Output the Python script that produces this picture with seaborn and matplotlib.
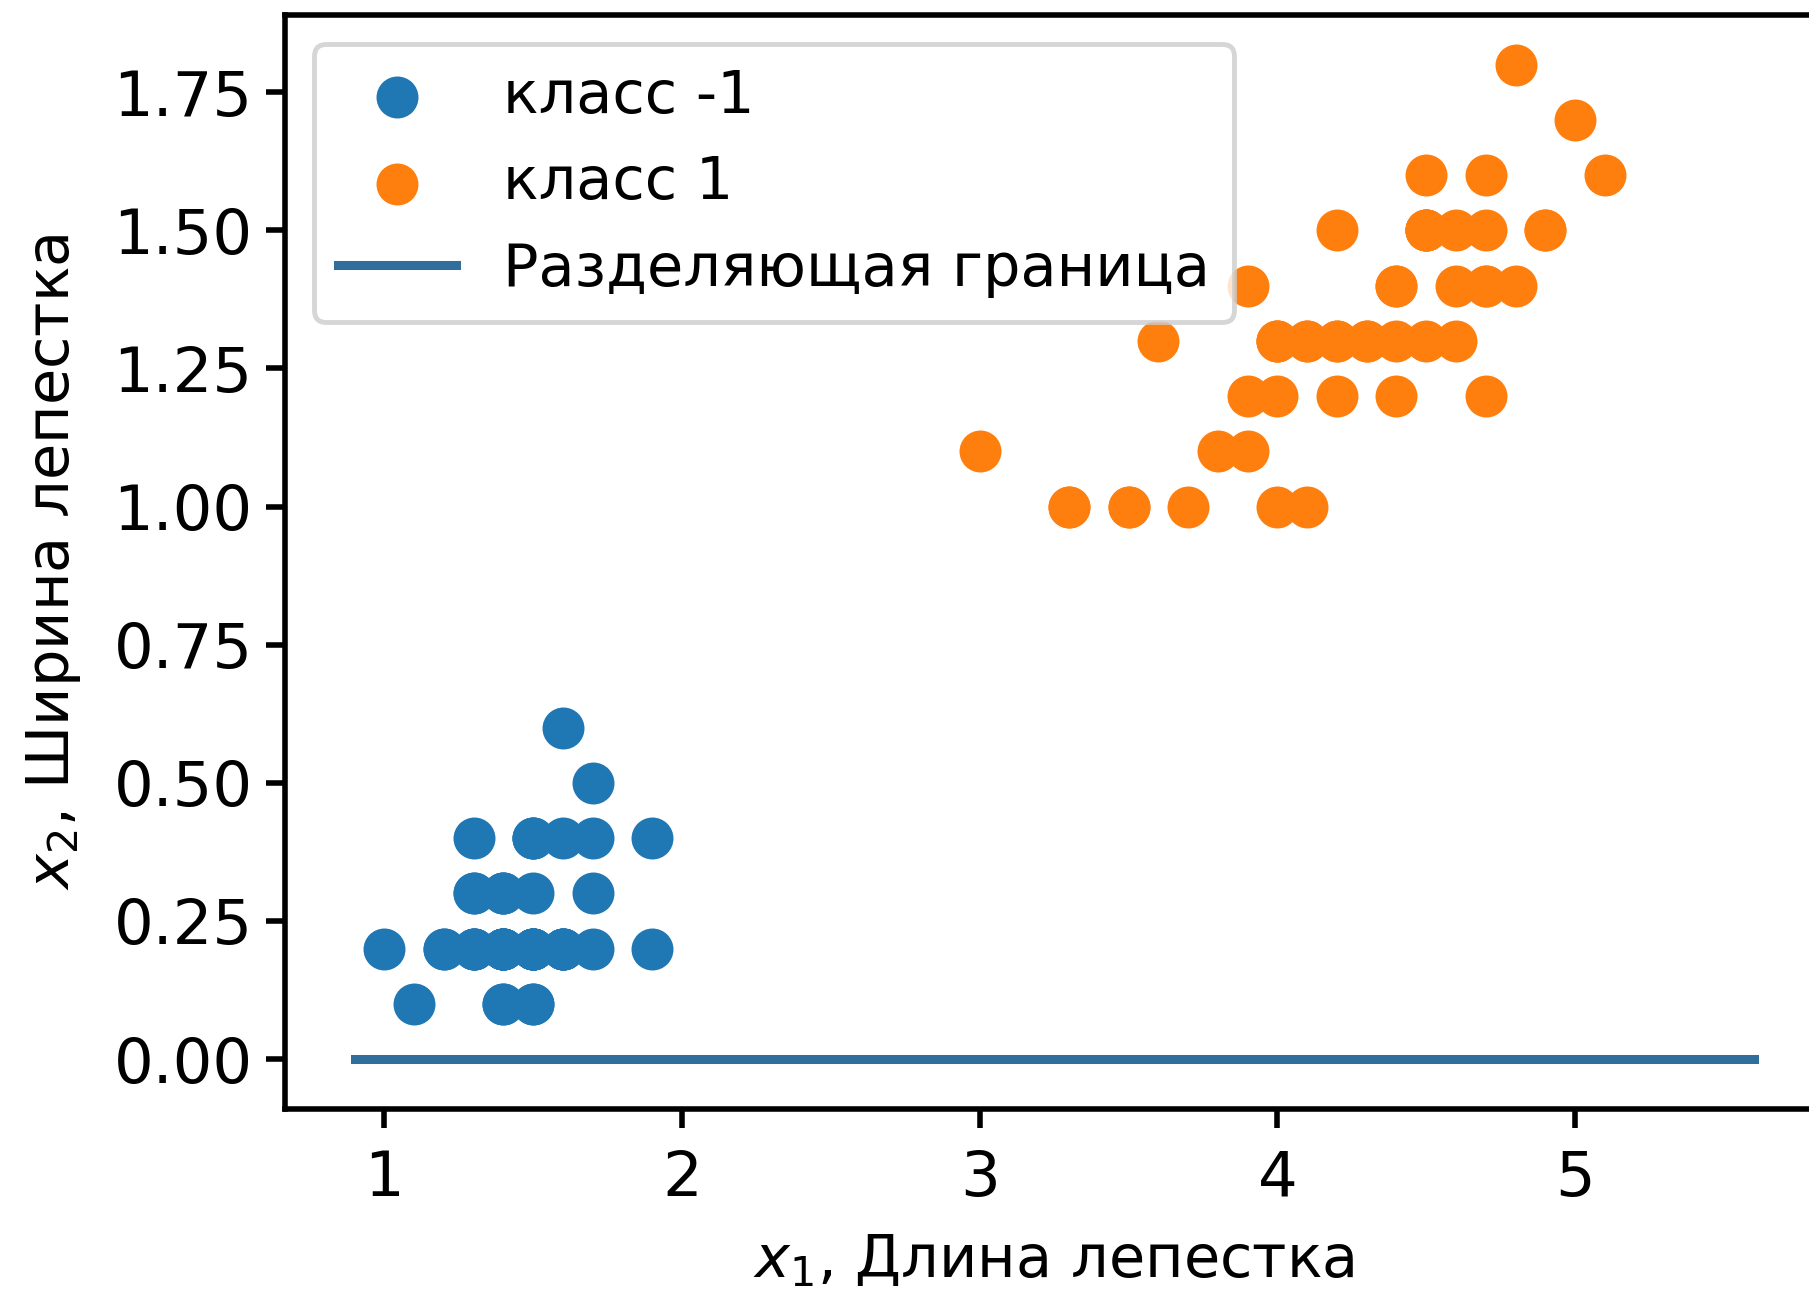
import numpy as np
import matplotlib
matplotlib.use("Agg")
import matplotlib.pyplot as plt
import seaborn as sns

# ==========================================
# 데이터: 꽃잎 길이 / 너비 (class -1, class 1)
# ==========================================
neg_length = [1.4, 1.4, 1.3, 1.5, 1.4, 1.7, 1.4, 1.5, 1.4, 1.5, 1.5, 1.6, 1.4, 1.1, 1.2, 1.5, 1.3,
              1.4, 1.7, 1.5, 1.7, 1.5, 1.0, 1.7, 1.9, 1.6, 1.6, 1.5, 1.4, 1.6, 1.6, 1.5, 1.5, 1.4,
              1.5, 1.2, 1.3, 1.4, 1.3, 1.5, 1.3, 1.3, 1.3, 1.6, 1.9, 1.4, 1.6, 1.4, 1.5, 1.4]
neg_width = [0.2, 0.2, 0.2, 0.2, 0.2, 0.4, 0.3, 0.2, 0.2, 0.1, 0.2, 0.2, 0.1, 0.1, 0.2, 0.4, 0.4,
             0.3, 0.3, 0.3, 0.2, 0.4, 0.2, 0.5, 0.2, 0.2, 0.4, 0.2, 0.2, 0.2, 0.2, 0.4, 0.1, 0.2,
             0.2, 0.2, 0.2, 0.1, 0.2, 0.2, 0.3, 0.3, 0.2, 0.6, 0.4, 0.3, 0.2, 0.2, 0.2, 0.2]

pos_length = [4.7, 4.5, 4.9, 4.0, 4.6, 4.5, 4.7, 3.3, 4.6, 3.9, 3.5, 4.2, 4.0, 4.7, 3.6, 4.4, 4.5,
              4.1, 4.5, 3.9, 4.8, 4.0, 4.9, 4.7, 4.3, 4.4, 4.8, 5.0, 4.5, 3.5, 3.8, 3.7, 3.9, 5.1,
              4.5, 4.5, 4.7, 4.4, 4.1, 4.0, 4.4, 4.6, 4.0, 3.3, 4.2, 4.2, 4.2, 4.3, 3.0, 4.1]
pos_width = [1.4, 1.5, 1.5, 1.3, 1.5, 1.3, 1.6, 1.0, 1.3, 1.4, 1.0, 1.5, 1.0, 1.4, 1.3, 1.4, 1.5,
             1.0, 1.5, 1.1, 1.8, 1.3, 1.5, 1.2, 1.3, 1.4, 1.4, 1.7, 1.5, 1.0, 1.1, 1.0, 1.2, 1.6,
             1.5, 1.6, 1.5, 1.3, 1.3, 1.3, 1.2, 1.4, 1.2, 1.0, 1.3, 1.2, 1.3, 1.3, 1.1, 1.3]

# 분리 경계 (x2 = 0)
boundary_x = [0.9, 5.6]
boundary_y = [0.0, 0.0]

labels = ['класс -1', 'класс 1', 'Разделяющая граница']

# ==========================================
# 시각화
# ==========================================
FS_TICK = 45
FS_TEXT = 42.5
plt.rcParams['font.family'] = ['DejaVu Sans']
plt.rcParams['axes.linewidth'] = 4.0

fig = plt.figure(figsize=(18.09, 12.9), dpi=100)
ax = fig.add_axes([0.1573, 0.1405, 0.8508, 0.848])

sns.scatterplot(x=neg_length, y=neg_width, color='#1f77b4', s=913, linewidth=0,
                label=labels[0], ax=ax)
sns.scatterplot(x=pos_length, y=pos_width, color='#ff7f0e', s=913, linewidth=0,
                label=labels[1], ax=ax)
sns.lineplot(x=boundary_x, y=boundary_y, color='#326e9c', linewidth=6.5,
             label=labels[2], ax=ax)

ax.set_xlim(0.665, 5.835)
ax.set_ylim(-0.09, 1.89)
ax.set_xticks([1, 2, 3, 4, 5])
ax.set_yticks([0.0, 0.25, 0.5, 0.75, 1.0, 1.25, 1.5, 1.75])
ax.set_yticklabels(['0.00', '0.25', '0.50', '0.75', '1.00', '1.25', '1.50', '1.75'])
ax.tick_params(labelsize=FS_TICK, length=14, width=4)
ax.tick_params(axis='x', pad=15)
ax.tick_params(axis='y', pad=9)

ax.set_xlabel('$x_1$, Длина лепестка', fontsize=FS_TEXT, labelpad=17)
ax.set_ylabel('$x_2$, Ширина лепестка', fontsize=FS_TEXT, labelpad=22)

leg = ax.legend(loc='upper left', fontsize=FS_TEXT)
leg.get_frame().set_linewidth(3.5)

fig.savefig('out.png', dpi=100)
